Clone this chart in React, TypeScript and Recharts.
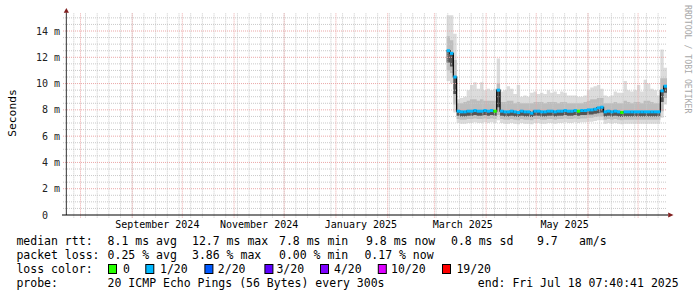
import React from 'react';
import { ComposedChart, Area, Line, XAxis, YAxis, ReferenceLine, ReferenceDot } from 'recharts';

const DAY = 86400000;
const START = Date.UTC(2024, 6, 23, 7, 40, 41);
const SPAN_DAYS = 360;
const Y_MAX = 15.37;
const FONT = "'DejaVu Sans Mono', monospace";

// smoke columns, one every 2 days starting at day 228 of the 360 day window
const FIRST_SAMPLE_DAY = 228;
const SAMPLE_STEP_DAYS = 2;

const MEDIAN = [
  12.5, 12.3, 10.5, 7.9, 7.85, 7.85, 7.9, 7.9, 7.95, 7.9,
  7.9, 7.95, 7.9, 7.95, 7.9, 9.5, 7.9, 7.85, 7.85, 7.9,
  7.85, 7.8, 7.9, 7.85, 7.85, 7.75, 7.9, 7.9, 7.85, 7.85,
  7.9, 7.9, 7.85, 7.9, 7.9, 7.95, 7.9, 7.9, 7.95, 7.9,
  7.95, 7.95, 8.0, 8.0, 8.05, 8.15, 8.2, 7.85, 7.9, 7.85,
  7.9, 7.85, 7.8, 7.85, 7.85, 7.85, 7.85, 7.85, 7.85, 7.85,
  7.85, 7.85, 7.85, 7.85, 9.45, 9.8,
];
const SMOKE_MAX = [
  15.2, 15.2, 13.8, 8.8, 8.9, 9.0, 9.5, 9.9, 10.1, 9.6,
  10.1, 9.5, 9.6, 9.5, 9.6, 11.9, 9.4, 9.5, 9.8, 9.6,
  9.2, 9.9, 9.0, 9.1, 9.0, 9.3, 9.4, 9.2, 9.3, 9.2,
  9.5, 9.3, 9.4, 9.2, 9.4, 9.3, 9.1, 9.1, 9.1, 9.0,
  9.0, 9.1, 9.5, 9.7, 9.8, 9.9, 9.6, 9.1, 9.0, 9.1,
  9.4, 9.3, 9.3, 10.2, 9.5, 9.4, 9.5, 9.9, 9.4, 10.3,
  10.0, 9.6, 9.5, 9.1, 12.6, 11.2,
];
const SMOKE_UPPER = [
  13.6, 13.3, 11.8, 8.5, 8.5, 8.6, 8.7, 8.8, 8.8, 8.7,
  8.8, 8.7, 8.7, 8.7, 8.7, 10.0, 8.6, 8.6, 8.7, 8.7,
  8.5, 8.6, 8.5, 8.5, 8.5, 8.5, 8.6, 8.6, 8.6, 8.5,
  8.6, 8.6, 8.6, 8.5, 8.6, 8.6, 8.5, 8.5, 8.5, 8.5,
  8.5, 8.6, 8.7, 8.8, 8.8, 8.9, 8.9, 8.5, 8.5, 8.5,
  8.6, 8.5, 8.5, 8.7, 8.6, 8.5, 8.6, 8.6, 8.5, 8.7,
  8.7, 8.6, 8.5, 8.5, 10.4, 10.4,
];
const SMOKE_DARK_LOW = [
  11.6, 11.3, 9.2, 7.55, 7.5, 7.5, 7.55, 7.55, 7.6, 7.55,
  7.55, 7.6, 7.55, 7.6, 7.55, 8.2, 7.55, 7.5, 7.5, 7.55,
  7.5, 7.45, 7.55, 7.5, 7.5, 7.45, 7.55, 7.55, 7.5, 7.5,
  7.55, 7.55, 7.5, 7.55, 7.55, 7.6, 7.55, 7.55, 7.6, 7.55,
  7.6, 7.6, 7.65, 7.65, 7.7, 7.75, 7.8, 7.5, 7.55, 7.5,
  7.55, 7.5, 7.45, 7.5, 7.5, 7.5, 7.5, 7.5, 7.5, 7.5,
  7.5, 7.5, 7.5, 7.5, 8.6, 9.3,
];
const SMOKE_LOWER = [
  11.0, 10.8, 8.4, 7.3, 7.25, 7.25, 7.3, 7.3, 7.35, 7.3,
  7.3, 7.35, 7.3, 7.35, 7.3, 7.6, 7.3, 7.25, 7.25, 7.3,
  7.25, 7.2, 7.3, 7.25, 7.25, 7.2, 7.3, 7.3, 7.25, 7.25,
  7.3, 7.3, 7.25, 7.3, 7.3, 7.35, 7.3, 7.3, 7.35, 7.3,
  7.35, 7.35, 7.4, 7.4, 7.45, 7.5, 7.5, 7.25, 7.3, 7.25,
  7.3, 7.25, 7.2, 7.25, 7.25, 7.25, 7.25, 7.25, 7.25, 7.25,
  7.25, 7.25, 7.25, 7.25, 7.9, 8.9,
];
const SMOKE_MIN = [
  10.2, 10.0, 7.8, 7.0, 6.95, 6.95, 7.0, 7.0, 7.05, 7.0,
  7.0, 7.05, 7.0, 7.05, 7.0, 7.2, 7.0, 6.95, 6.95, 7.0,
  6.95, 6.9, 7.0, 6.95, 6.95, 6.9, 7.0, 7.0, 6.95, 6.95,
  7.0, 7.0, 6.95, 7.0, 7.0, 7.05, 7.0, 7.0, 7.05, 7.0,
  7.05, 7.05, 7.1, 7.1, 7.15, 7.2, 7.2, 6.95, 7.0, 6.95,
  7.0, 6.95, 6.9, 6.95, 6.95, 6.95, 6.95, 6.95, 6.95, 6.95,
  6.95, 6.95, 6.95, 6.95, 7.4, 8.4,
];
// index into LOSS_COLORS
const LOSS_BUCKET = [
  1, 1, 1, 1, 1, 1, 1, 1, 1, 1,
  1, 1, 1, 1, 0, 1, 1, 1, 1, 1,
  1, 1, 1, 1, 1, 1, 1, 1, 1, 1,
  1, 1, 1, 1, 1, 1, 1, 1, 1, 0,
  1, 1, 1, 1, 1, 1, 1, 1, 1, 1,
  1, 1, 0, 1, 1, 1, 1, 1, 1, 1,
  1, 1, 1, 1, 1, 1,
];

const LOSS_COLORS = ['#26ff00', '#00b8ff', '#0059ff', '#5e00ff', '#7e00ff', '#dd00ff', '#ff0000'];
const LOSS_LABELS = ['0', '1/20', '2/20', '3/20', '4/20', '10/20', '19/20'];

const Y_TICKS = [0, 2, 4, 6, 8, 10, 12, 14];
const X_LABELS = [
  { y: 2024, m: 8, d: 16, text: 'September 2024' },
  { y: 2024, m: 10, d: 16, text: 'November 2024' },
  { y: 2025, m: 0, d: 16, text: 'January 2025' },
  { y: 2025, m: 2, d: 18, text: 'March 2025' },
  { y: 2025, m: 4, d: 18, text: 'May 2025' },
];

const RTT_STATS = ['8.1 ms avg', '12.7 ms max', '7.8 ms min', '9.8 ms now', '0.8 ms sd', '9.7', 'am/s'];
const LOSS_STATS = ['0.25 % avg', '3.86 % max', '0.00 % min', '0.17 % now'];
const PROBE_TEXT = '20 ICMP Echo Pings (56 Bytes) every 300s';
const END_TEXT = 'end: Fri Jul 18 07:40:41 2025';

// legend layout (px)
const RTT_X = [107.6, 192, 279, 366, 451, 537, 579];
const LOSS_X = [107.6, 192, 279, 364.4];
const BOX_X = [108, 145.3, 204.4, 264.4, 320, 377.8, 442];
const BOX_LABEL_X = [123, 160, 217.8, 276.4, 334, 391, 456.4];
const STEP_PX = 3.4;

const dayOf = (y: number, m: number, d: number) => (Date.UTC(y, m, d) - START) / DAY;

const rows: any[] = MEDIAN.map((med, i) => ({
  d: FIRST_SAMPLE_DAY + i * SAMPLE_STEP_DAYS,
  med,
  hi: SMOKE_MAX[i],
  up: SMOKE_UPPER[i],
  dk: SMOKE_DARK_LOW[i],
  dn: SMOKE_LOWER[i],
  lo: SMOKE_MIN[i],
  loss: LOSS_BUCKET[i],
}));
rows.push({ ...rows[rows.length - 1], d: SPAN_DAYS, end: true });

const monthStarts: number[] = [];
for (let k = 0; k < 12; k++) monthStarts.push(dayOf(2024, 7 + k, 1));
const weekLines: number[] = [];
for (let d = dayOf(2024, 6, 28); d < SPAN_DAYS; d += 7) weekLines.push(d);
const minorH: number[] = [];
for (let v = 0.5; v <= 15; v += 0.5) if (v % 2 !== 0) minorH.push(v);
const majorH = Y_TICKS.filter((v) => v > 0);

const xTicks = X_LABELS.map((l) => dayOf(l.y, l.m, l.d));

const GRID_MINOR = '#c8c8c8';
const GRID_MAJOR = '#eba6a6';

const YTick = (p: any) => {
  const v = p.payload.value;
  return (
    <text x={v === 0 ? p.x - 12 : p.x} y={p.y} dy={3.5} textAnchor="end" fontFamily={FONT} fontSize={10} fill="#222">
      {v === 0 ? '0' : `${v} m`}
    </text>
  );
};

const XTick = (p: any) => (
  <text x={p.x} y={p.y + 13} textAnchor="middle" fontFamily={FONT} fontSize={10} fill="#000">
    {X_LABELS[p.index] ? X_LABELS[p.index].text : ''}
  </text>
);

const MedianMark = (p: any) => {
  const { cx, cy, payload, index } = p;
  if (payload.end || cx == null || cy == null) return <g key={`m-${index}`} />;
  return <rect key={`m-${index}`} x={cx} y={cy - 1.5} width={STEP_PX} height={3} fill={LOSS_COLORS[payload.loss]} />;
};

export default function App() {
  const rowY = [245, 259, 273, 287];
  return (
    <div style={{ position: 'absolute', left: 0, top: 0, width: 697, height: 297, background: '#fff' }}>
      <ComposedChart width={697} height={297} data={rows} margin={{ top: 13, right: 30, bottom: 0, left: 0 }}>
        <XAxis
          type="number"
          dataKey="d"
          domain={[0, SPAN_DAYS]}
          allowDataOverflow
          ticks={xTicks}
          interval={0}
          tick={(p: any) => <XTick {...p} />}
          tickSize={0}
          tickMargin={0}
          axisLine={false}
          tickLine={false}
          height={82}
        />
        <YAxis
          type="number"
          domain={[0, Y_MAX]}
          allowDataOverflow
          ticks={Y_TICKS}
          interval={0}
          tick={(p: any) => <YTick {...p} />}
          tickSize={0}
          tickMargin={6}
          axisLine={false}
          tickLine={false}
          width={66}
        />

        <Area dataKey={(r: any) => [r.lo, r.hi]} type="stepAfter" stroke="none" fill="#dcdcdc" fillOpacity={1} isAnimationActive={false} activeDot={false} />
        <Area dataKey={(r: any) => [r.dn, r.up]} type="stepAfter" stroke="none" fill="#bdbdbd" fillOpacity={1} isAnimationActive={false} activeDot={false} />
        <Area dataKey={(r: any) => [r.dk, r.med]} type="stepAfter" stroke="none" fill="#555555" fillOpacity={1} isAnimationActive={false} activeDot={false} />

        {minorH.map((v) => (
          <ReferenceLine key={`hm-${v}`} segment={[{ x: -1.8, y: v }, { x: SPAN_DAYS, y: v }]} ifOverflow="visible" stroke={GRID_MINOR} strokeDasharray="1 1" />
        ))}
        {weekLines.map((d) => (
          <ReferenceLine key={`vm-${d}`} segment={[{ x: d, y: -0.2 }, { x: d, y: Y_MAX }]} ifOverflow="visible" stroke={GRID_MINOR} strokeDasharray="1 1" />
        ))}
        {majorH.map((v) => (
          <ReferenceLine key={`hM-${v}`} segment={[{ x: -1.8, y: v }, { x: SPAN_DAYS, y: v }]} ifOverflow="visible" stroke={GRID_MAJOR} strokeDasharray="1 1" />
        ))}
        {monthStarts.map((d) => (
          <ReferenceLine key={`vM-${d}`} segment={[{ x: d, y: -0.2 }, { x: d, y: Y_MAX }]} ifOverflow="visible" stroke={GRID_MAJOR} strokeDasharray="1 1" />
        ))}

        <Line
          dataKey="med"
          type="stepAfter"
          stroke="#000"
          strokeWidth={1.2}
          dot={(p: any) => <MedianMark {...p} />}
          activeDot={false}
          isAnimationActive={false}
        />

        <ReferenceLine segment={[{ x: 0.2, y: 0 }, { x: 0.2, y: Y_MAX + 0.05 }]} ifOverflow="visible" stroke="#333" />
        <ReferenceLine segment={[{ x: -2.4, y: 0 }, { x: SPAN_DAYS + 0.6, y: 0 }]} ifOverflow="visible" stroke="#000" strokeWidth={1.2} />
        <ReferenceDot
          x={0.2}
          y={Y_MAX}
          ifOverflow="visible"
          shape={(p: any) => (
            <polygon points={`${p.cx - 2.6},${p.cy - 0.3} ${p.cx + 2.6},${p.cy - 0.3} ${p.cx},${p.cy - 5}`} fill="#801f1f" />
          )}
        />
        <ReferenceDot
          x={SPAN_DAYS}
          y={0}
          ifOverflow="visible"
          shape={(p: any) => (
            <polygon points={`${p.cx + 1.2},${p.cy - 2.6} ${p.cx + 1.2},${p.cy + 2.6} ${p.cx + 6.5},${p.cy}`} fill="#801f1f" />
          )}
        />
      </ComposedChart>

      <svg width={697} height={297} style={{ position: 'absolute', left: 0, top: 0, pointerEvents: 'none' }}>
        <text x={12} y={113} transform="rotate(-90 12 113)" textAnchor="middle" dominantBaseline="central" fontFamily={FONT} fontSize={11.3} fill="#000">
          Seconds
        </text>
        <text x={685} y={5} transform="rotate(90 685 5)" fontFamily={FONT} fontSize={8.2} fill="#a8a8a8">
          RRDTOOL / TOBI OETIKER
        </text>

        <g fontFamily={FONT} fontSize={11.5} fill="#000">
          <text x={16.4} y={rowY[0]}>median rtt:</text>
          {RTT_STATS.map((s, i) => (
            <text key={`r-${i}`} x={RTT_X[i]} y={rowY[0]}>{s}</text>
          ))}
          <text x={16.4} y={rowY[1]}>packet loss:</text>
          {LOSS_STATS.map((s, i) => (
            <text key={`l-${i}`} x={LOSS_X[i]} y={rowY[1]}>{s}</text>
          ))}
          <text x={16.4} y={rowY[2]}>loss color:</text>
          {LOSS_LABELS.map((s, i) => (
            <g key={`c-${i}`}>
              <rect x={BOX_X[i] + 0.5} y={rowY[2] - 8.5} width={8} height={9} fill={LOSS_COLORS[i]} stroke="#000" strokeWidth={1} />
              <text x={BOX_LABEL_X[i]} y={rowY[2]}>{s}</text>
            </g>
          ))}
          <text x={16.4} y={rowY[3]}>probe:</text>
          <text x={107.6} y={rowY[3]}>{PROBE_TEXT}</text>
          <text x={477.8} y={rowY[3]}>{END_TEXT}</text>
        </g>
      </svg>
    </div>
  );
}
